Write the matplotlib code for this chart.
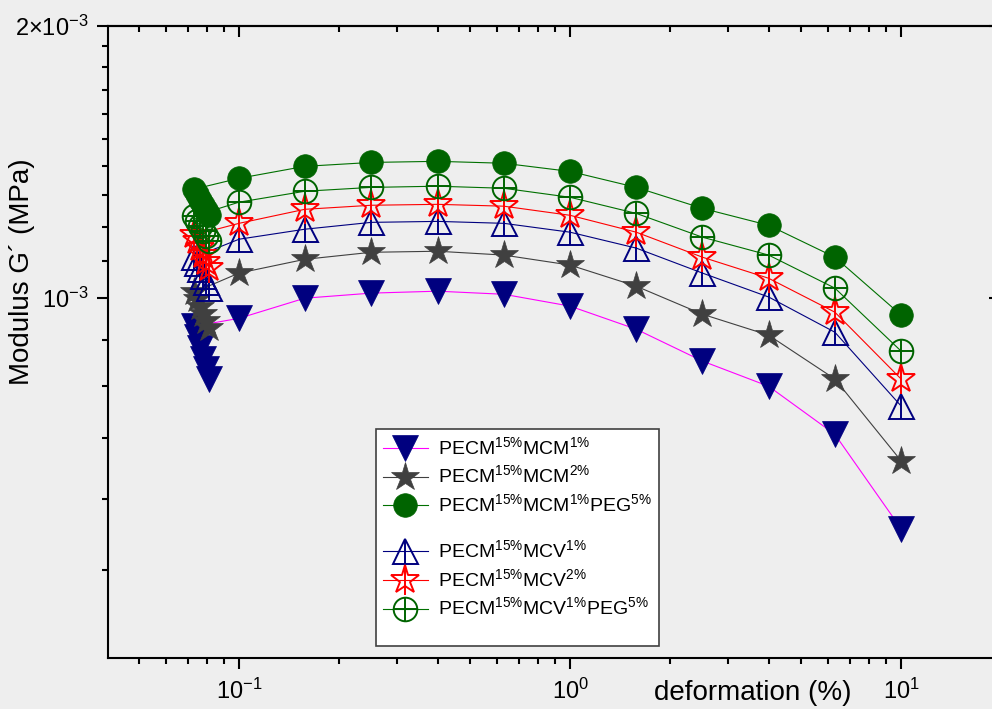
import matplotlib
matplotlib.use('Agg')
import matplotlib.pyplot as plt
import numpy as np
from matplotlib.lines import Line2D
from matplotlib.ticker import FixedLocator, NullFormatter

plt.rcParams['font.family'] = ['Liberation Sans', 'DejaVu Sans']
plt.rcParams['mathtext.fontset'] = 'custom'
plt.rcParams['mathtext.rm'] = 'Liberation Sans'
plt.rcParams['mathtext.it'] = 'Liberation Sans:italic'
plt.rcParams['mathtext.bf'] = 'Liberation Sans:bold'

# deformation (%): first points stuck near 0.08 %, then the regular sweep
x_start = [0.0811, 0.0795, 0.0778, 0.0762, 0.0747, 0.0731]
x_sweep = [0.1, 0.158, 0.251, 0.398, 0.631, 1.0, 1.585, 2.512, 3.981, 6.31, 10.0]

# storage modulus G' in units of 1e-3 MPa (start cluster + sweep)
mcm1 = [0.814, 0.835, 0.856, 0.881, 0.906, 0.931,
        0.950, 1.000, 1.013, 1.018, 1.010, 0.980, 0.924, 0.852, 0.799, 0.707, 0.556]
mcm2 = [0.927, 0.943, 0.960, 0.977, 0.998, 1.015,
        1.066, 1.104, 1.124, 1.127, 1.116, 1.088, 1.031, 0.960, 0.910, 0.814, 0.661]
mcm1_peg = [1.235, 1.251, 1.267, 1.283, 1.303, 1.320,
            1.357, 1.399, 1.413, 1.417, 1.410, 1.381, 1.326, 1.257, 1.204, 1.110, 0.958]
mcv1 = [1.026, 1.041, 1.058, 1.077, 1.093, 1.110,
        1.162, 1.192, 1.213, 1.216, 1.210, 1.183, 1.136, 1.066, 1.003, 0.917, 0.760]
mcv2 = [1.079, 1.096, 1.116, 1.136, 1.156, 1.174,
        1.210, 1.254, 1.267, 1.270, 1.264, 1.235, 1.183, 1.110, 1.052, 0.965, 0.814]
mcv1_peg = [1.156, 1.171, 1.186, 1.201, 1.216, 1.232,
            1.277, 1.313, 1.326, 1.330, 1.323, 1.293, 1.241, 1.168, 1.116, 1.026, 0.874]

labels = [r'PECM$^{15\%}$MCM$^{1\%}$',
          r'PECM$^{15\%}$MCM$^{2\%}$',
          r'PECM$^{15\%}$MCM$^{1\%}$PEG$^{5\%}$',
          r'PECM$^{15\%}$MCV$^{1\%}$',
          r'PECM$^{15\%}$MCV$^{2\%}$',
          r'PECM$^{15\%}$MCV$^{1\%}$PEG$^{5\%}$']

x_major = [0.1, 1, 10]
x_major_labels = ['10$^{-1}$', '10$^{0}$', '10$^{1}$']
y_major = [1e-3, 2e-3]
y_major_labels = ['10$^{-3}$', '2×10$^{-3}$']
y_minor = [5e-4, 6e-4, 7e-4, 8e-4, 9e-4,
           1.1e-3, 1.2e-3, 1.3e-3, 1.4e-3, 1.5e-3, 1.6e-3, 1.7e-3, 1.8e-3, 1.9e-3]

bg = '#eeeeee'
fig = plt.figure(figsize=(9.92, 7.09), dpi=100)
fig.patch.set_facecolor(bg)
ax = fig.add_axes([108/992, 1-658/709, (1000-108)/992, (658-26)/709])
ax.set_facecolor('none')
ax.set_xscale('log')
ax.set_yscale('log')
ax.set_xlim(0.0402, 19.9)
ax.set_ylim(4e-4, 2e-3)

x_all = x_start + x_sweep


def draw(vals, marker, color, line_color, filled, inner, ms, z):
    y = np.array(vals) * 1e-3
    face = color if filled else 'none'
    ln, = ax.plot(x_all, y, color=line_color, lw=0.8, marker=marker, ms=ms,
                  mfc=face, mec=color, mew=1.4 if not filled else 0.5, zorder=z)
    if inner is None:
        return ln
    ov, = ax.plot(x_all, y, ls='none', marker=inner, ms=ms, mec=color,
                  mew=1.4, zorder=z)
    return (ln, ov)


h1 = draw(mcm1, 'v', '#00007f', '#ff00ff', True, None, 19, 3)
h2 = draw(mcm2, '*', '#404040', '#404040', True, None, 21, 4)
h4 = draw(mcv1, '^', '#00007f', '#00007f', False, '|', 18, 5)
h5 = draw(mcv2, '*', '#ff0000', '#ff0000', False, '|', 21, 6)
h6 = draw(mcv1_peg, 'o', '#006400', '#007000', False, '+', 17, 7)
h3 = draw(mcm1_peg, 'o', '#006400', '#007000', True, None, 17, 8)

# axes styling
for s in ax.spines.values():
    s.set_linewidth(1.5)
ax.set_xticks(x_major)
ax.set_xticklabels(x_major_labels)
ax.xaxis.set_minor_formatter(NullFormatter())
ax.yaxis.set_major_locator(FixedLocator(y_major))
ax.set_yticklabels(y_major_labels)
ax.yaxis.set_minor_locator(FixedLocator(y_minor))
ax.yaxis.set_minor_formatter(NullFormatter())
ax.tick_params(which='both', direction='out', width=1.5, labelsize=17,
               top=False, right=False)
ax.tick_params(which='major', length=8)
ax.tick_params(which='minor', length=4)
ax.tick_params(axis='x', pad=7)
ax.tick_params(axis='y', pad=6)

secx = ax.secondary_xaxis('top')
secx.tick_params(which='both', direction='in', width=1.5, labeltop=False)
secx.tick_params(which='major', length=8)
secx.tick_params(which='minor', length=4)
secx.spines['top'].set_linewidth(1.5)

secy = ax.secondary_yaxis('right')
secy.yaxis.set_major_locator(FixedLocator(y_major))
secy.yaxis.set_minor_locator(FixedLocator(y_minor))
secy.tick_params(which='both', direction='in', width=1.5, labelright=False)
secy.tick_params(which='major', length=8)
secy.tick_params(which='minor', length=4)

fig.text(753/992, 1-693/709, 'deformation (%)', ha='center', va='center', fontsize=20)
fig.text(22/992, 1-272/709, 'Modulus G´ (MPa)', ha='center', va='center',
         rotation=90, fontsize=20)

# legend: a short gap row between the MCM and MCV groups, empty space at the bottom
blank = Line2D([], [], ls='none')
leg = fig.legend([h1, h2, h3, blank, h4, h5, h6, blank],
                 labels[:3] + [''] + labels[3:] + [''],
                 loc='upper left', bbox_to_anchor=(376/992, 1-429/709),
                 frameon=True, fancybox=False, edgecolor='#404040', framealpha=1,
                 fontsize=14, handlelength=2.3, handleheight=0.3,
                 handletextpad=0.55, borderpad=0.35,
                 labelspacing=0.34, borderaxespad=0, numpoints=1)
leg.get_frame().set_linewidth(1.2)
texts = leg.get_texts()
texts[3].set_fontsize(1)
texts[7].set_fontsize(9)

fig.savefig('out.png', dpi=100, facecolor=bg)
